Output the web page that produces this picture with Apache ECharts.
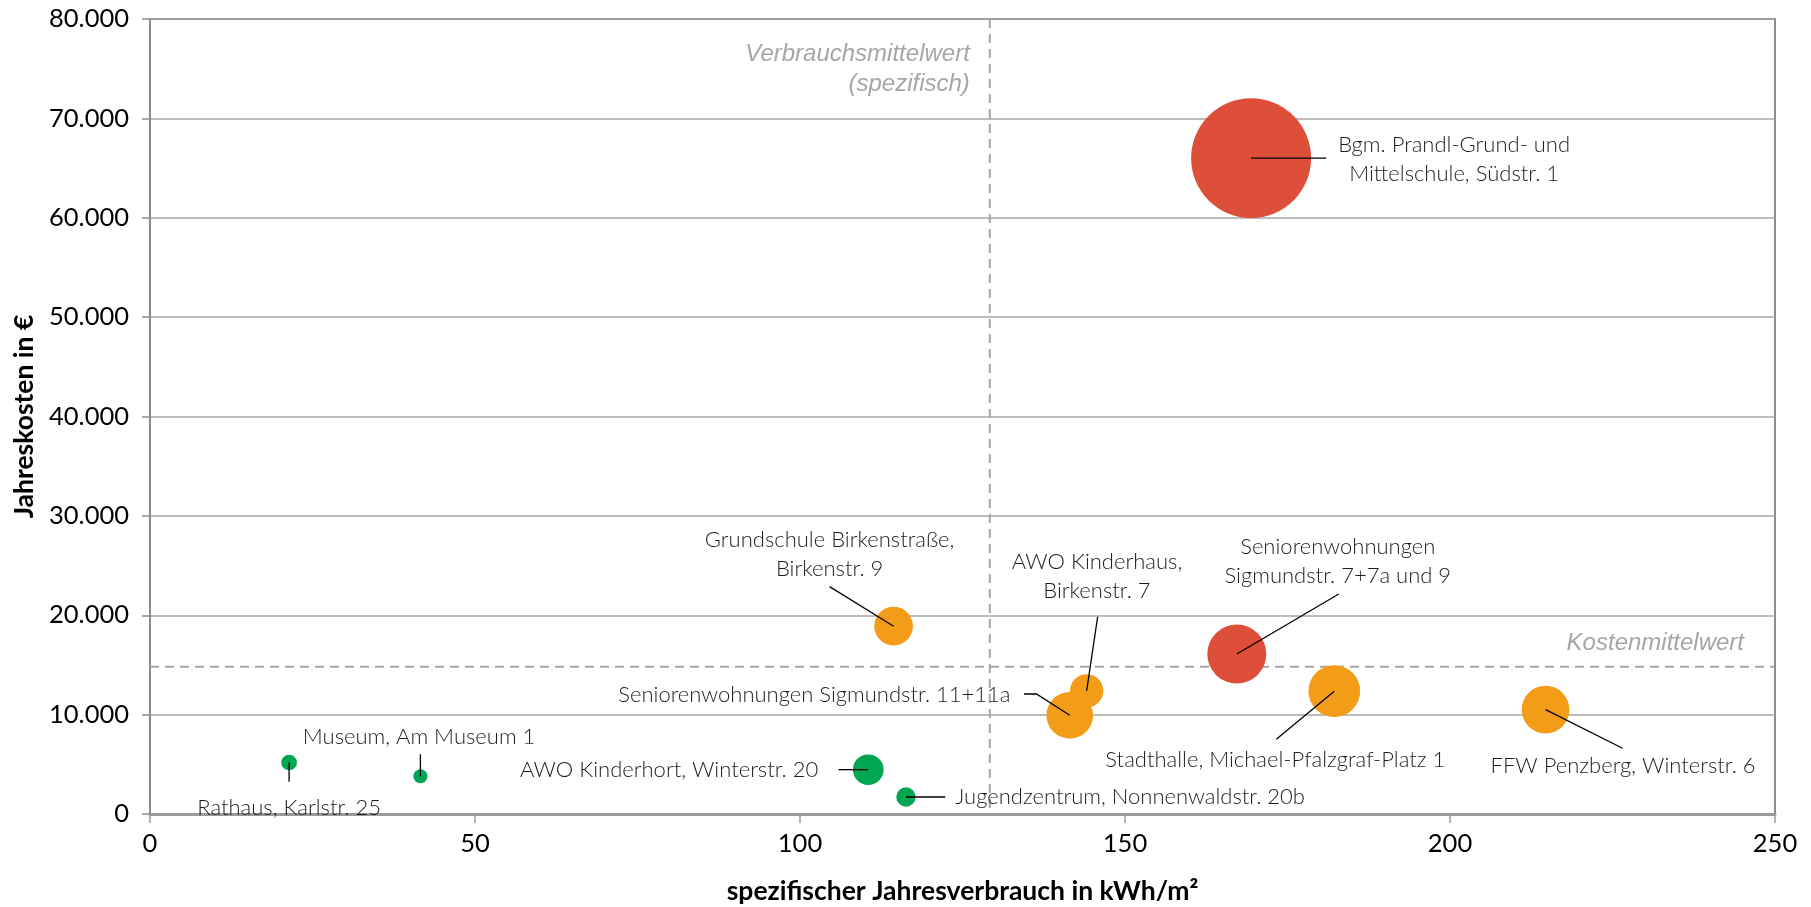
<!DOCTYPE html>
<html lang="de">
<head>
<meta charset="utf-8">
<title>Jahreskosten und spezifischer Jahresverbrauch</title>
<script src="https://cdn.jsdelivr.net/npm/echarts@6/dist/echarts.min.js"></script>
<style>
  html, body { margin: 0; padding: 0; background: #fff; }
  #chart { width: 1811px; height: 907px; }
</style>
</head>
<body>
<div id="chart"></div>
<script>
// Gebäude (Beschriftung), spezifischer Verbrauch (kWh/m²), Jahreskosten (€)
const gebaeude = [
  'Bgm. Prandl-Grund- und\nMittelschule, Südstr. 1',
  'Seniorenwohnungen\nSigmundstr. 7+7a und 9',
  'Stadthalle, Michael-Pfalzgraf-Platz 1',
  'FFW Penzberg, Winterstr. 6',
  'Grundschule Birkenstraße,\nBirkenstr. 9',
  'AWO Kinderhaus,\nBirkenstr. 7',
  'Seniorenwohnungen Sigmundstr. 11+11a',
  'AWO Kinderhort, Winterstr. 20',
  'Jugendzentrum, Nonnenwaldstr. 20b',
  'Museum, Am Museum 1',
  'Rathaus, Karlstr. 25'
];
const verbrauch = [169.4, 167.2, 182.2, 214.7, 114.4, 144.1, 141.5, 110.5, 116.3, 41.6, 21.4];
const kosten = [66000, 16100, 12360, 10500, 18900, 12400, 9930, 4460, 1710, 3800, 5180];
// relative Blasengröße (Fläche, größtes Gebäude = 100)
const blasen = [100, 24.2, 18.6, 15.8, 10.4, 7.7, 15.1, 6.5, 2.6, 1.36, 1.7];
const bewertung = ['rot', 'rot', 'orange', 'orange', 'orange', 'orange', 'orange', 'gruen', 'gruen', 'gruen', 'gruen'];

// Mittelwerte
const verbrauchMittel = 129.2;
const kostenMittel = 14830;

// Darstellung
const farben = { rot: '#DE4F3A', orange: '#F39C17', gruen: '#00A651' };
const maxDurchmesser = 120;

// Lage der Beschriftungen relativ zur Blasenmitte (Pixel):
// Knickpunkte der Führungslinie und Ankerpunkt des Textes
const beschriftungLage = [
  { linie: [[75, 0]], text: [203, 1], align: 'center' },
  { linie: [[102, -60]], text: [101, -93], align: 'center' },
  { linie: [[-58, 48]], text: [-59, 69], align: 'center' },
  { linie: [[77, 38.6]], text: [77.5, 56], align: 'center' },
  { linie: [[-64, -39.6]], text: [-64, -72], align: 'center' },
  { linie: [[11, -74]], text: [10.3, -114], align: 'center' },
  { linie: [[-33.3, -21.3], [-45.7, -21.3]], text: [-59.3, -20.3], align: 'right' },
  { linie: [[-29.7, 0]], text: [-50, 0.3], align: 'right' },
  { linie: [[39.3, 0]], text: [49.3, 0], align: 'left' },
  { linie: [[0, -22]], text: [-117.6, -39.3], align: 'left' },
  { linie: [[0, 19.2]], text: [0, 45.5], align: 'center' }
];

const punkte = verbrauch.map((v, i) => [v, kosten[i]]);

function tausender(v) {
  return String(Math.round(v)).replace(/\B(?=(\d{3})+(?!\d))/g, '.');
}

const chart = echarts.init(document.getElementById('chart'), null, { renderer: 'canvas' });

const option = {
  animation: false,
  backgroundColor: '#ffffff',
  grid: {
    left: 150, top: 19, right: 36, bottom: 93,
    outerBoundsMode: 'none',
    containLabel: false,
    show: true, borderColor: '#8c8c8c', borderWidth: 2, backgroundColor: 'transparent'
  },
  xAxis: {
    type: 'value', min: 0, max: 250, interval: 50,
    axisLine: { show: true, lineStyle: { color: '#9a9a9a', width: 3 } },
    axisTick: { show: true, length: 9, lineStyle: { color: '#9a9a9a', width: 1.5 } },
    splitLine: { show: false },
    axisLabel: { fontFamily: 'Lato', fontSize: 25.5, color: '#000', margin: 17 },
    name: 'spezifischer Jahresverbrauch in kWh/m²',
    nameLocation: 'middle', nameGap: 64,
    nameTextStyle: { fontFamily: 'Lato', fontWeight: 'bold', fontSize: 26.5, color: '#000' }
  },
  yAxis: {
    type: 'value', min: 0, max: 80000, interval: 10000,
    axisLine: { show: true, lineStyle: { color: '#8c8c8c', width: 2 } },
    axisTick: { show: true, length: 8, lineStyle: { color: '#8c8c8c', width: 1.5 } },
    splitLine: { show: true, lineStyle: { color: '#a6a6a6', width: 1.5 } },
    axisLabel: { fontFamily: 'Lato', fontSize: 25.5, color: '#000', margin: 21, formatter: tausender },
    name: 'Jahreskosten in €',
    nameLocation: 'middle', nameGap: 110,
    nameTextStyle: { fontFamily: 'Lato', fontWeight: 'bold', fontSize: 26.5, color: '#000' }
  },
  series: [
    {
      // Mittelwertlinien mit Beschriftung
      type: 'custom',
      z: 1,
      silent: true,
      data: [[verbrauchMittel, kostenMittel]],
      renderItem: function (params, api) {
        const cs = params.coordSys;
        const p = api.coord([api.value(0), api.value(1)]);
        const dash = { stroke: '#a6a6a6', lineWidth: 2, lineDash: [9, 6], fill: null };
        return {
          type: 'group',
          children: [
            { type: 'line', shape: { x1: p[0], y1: cs.y, x2: p[0], y2: cs.y + cs.height }, style: dash },
            { type: 'line', shape: { x1: cs.x, y1: p[1], x2: cs.x + cs.width, y2: p[1] }, style: dash },
            {
              type: 'text', x: p[0] - 20, y: cs.y + 50,
              style: {
                text: 'Verbrauchsmittelwert\n(spezifisch)', align: 'right', verticalAlign: 'middle',
                fontFamily: 'Liberation Sans', fontStyle: 'italic', fontSize: 24, lineHeight: 30, fill: '#a6a6a6'
              }
            },
            {
              type: 'text', x: cs.x + cs.width - 31, y: p[1] - 23,
              style: {
                text: 'Kostenmittelwert', align: 'right', verticalAlign: 'middle',
                fontFamily: 'Liberation Sans', fontStyle: 'italic', fontSize: 24, fill: '#a6a6a6'
              }
            }
          ]
        };
      }
    },
    {
      type: 'scatter',
      z: 2,
      data: punkte,
      symbol: 'circle',
      symbolSize: function (val, params) {
        return maxDurchmesser * Math.sqrt(blasen[params.dataIndex] / 100);
      },
      itemStyle: {
        opacity: 1,
        color: function (params) { return farben[bewertung[params.dataIndex]]; }
      }
    },
    {
      // Führungslinien und Gebäudenamen
      type: 'custom',
      z: 3,
      silent: true,
      clip: false,
      data: punkte,
      renderItem: function (params, api) {
        const i = params.dataIndex;
        const c = api.coord([api.value(0), api.value(1)]);
        const lage = beschriftungLage[i];
        const pts = [c].concat(lage.linie.map(q => [c[0] + q[0], c[1] + q[1]]));
        return {
          type: 'group',
          children: [
            { type: 'polyline', shape: { points: pts }, style: { stroke: '#000', lineWidth: 1.3, fill: null } },
            {
              type: 'text', x: c[0] + lage.text[0], y: c[1] + lage.text[1],
              style: {
                text: gebaeude[i], align: lage.align, verticalAlign: 'middle',
                fontFamily: 'Lato', fontWeight: 300, fontSize: 22, lineHeight: 29, fill: '#1e1e1e'
              }
            }
          ]
        };
      }
    }
  ]
};

chart.setOption(option);
</script>
</body>
</html>
